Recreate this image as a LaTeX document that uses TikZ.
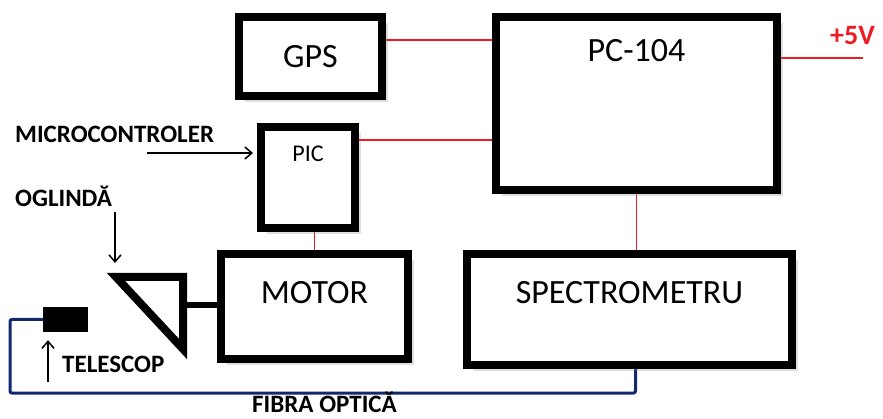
\documentclass[tikz,border=0pt]{standalone}
\usepackage{fontspec}
\setmainfont{Carlito}
\usetikzlibrary{positioning}
\usetikzlibrary{calc}
\usetikzlibrary{arrows.meta}
\usetikzlibrary{shadows}
\usetikzlibrary{backgrounds}
\definecolor{wirered}{RGB}{237,28,36}
\definecolor{navy}{RGB}{16,40,110}

\begin{document}
\begin{tikzpicture}[x=1pt, y=-1pt,
    box/.style={draw, line width=8pt, fill=white, inner sep=0pt,
        drop shadow={shadow xshift=6pt, shadow yshift=-6pt, opacity=0.25}},
    boxtext/.style={font=\fontsize{34}{40}\selectfont},
    lbl/.style={font=\fontsize{25}{30}\selectfont\bfseries, anchor=base west, inner sep=0pt},
    wire/.style={wirered, line width=1.5pt},
    arr/.style={-{Straight Barb[length=7pt, width=12pt]}, line width=1.5pt},
    fibre/.style={navy, line width=3pt, rounded corners=2pt}]
    \useasboundingbox (0,0) rectangle (883,419);
    % blocks
    \node[box, boxtext, minimum width=143pt, minimum height=79pt] (gps) at (310.5,56.5) {GPS};
    \node[box, minimum width=281pt, minimum height=173pt] (pc) at (636.5,103.5) {};
    \node[boxtext] (pctext) at ($(pc.north)+(0,38)$) {PC-104};
    \node[box, minimum width=94pt, minimum height=101pt] (pic) at (308,177.5) {};
    \node[font=\fontsize{24}{28}\selectfont] (pictext) at ($(pic.north)+(0,31)$) {PIC};
    \node[box, minimum width=187pt, minimum height=105pt] (motor) at (314.5,306.5) {};
    \node[boxtext] (motortext) at ($(motor.north)+(0,43)$) {MOTOR};
    \node[box, minimum width=325pt, minimum height=111pt] (spectro) at (629.5,309.5) {};
    \node[boxtext] (spectrotext) at ($(spectro.north)+(0,43)$) {SPECTROMETRU};
    \node[fill=black, minimum width=45pt, minimum height=25pt, inner sep=0pt] (tel) at (65.5,319.5) {};
    % mirror and shaft
    \draw[line width=8pt] (116,277) -- (183,277) -- (183,349) -- cycle;
    \coordinate (shaft) at (183,305);
    \draw[line width=6pt] (shaft) -- (shaft -| motor.west);
    % labels
    \node[lbl] (mc) at (15,143) {MICROCONTROLER};
    \node[lbl] (ogl) at (15,207) {OGLINDĂ};
    \node[lbl] (telname) at (62,373) {TELESCOP};
    \node[lbl] (fibra) at (252,412) {FIBRA OPTICĂ};
    \node[lbl, text=wirered, font=\fontsize{28}{32}\selectfont\bfseries] (vcc) at (830,45) {+5V};
    % arrows
    \coordinate (mcarr) at (147,153);
    \coordinate (oglarr) at (115,212);
    \coordinate (mirrortop) at (115,263);
    \coordinate (telarr) at (48,382);
    \draw[arr, shorten >=4pt] (mcarr) -- (mcarr -| pic.west);
    \draw[arr] (oglarr) -- (mirrortop);
    \draw[arr, shorten >=8pt] (telarr) -- (telarr |- tel.south);
    % wires
    \coordinate (vccend) at (863,58);
    \coordinate (fibL) at (10,393);
    \begin{scope}[on background layer]
        \draw[wire] ($(gps.north east)+(0,27)$) coordinate (g1) -- (g1 -| pc.west);
        \draw[wire] ($(pic.north east)+(0,17)$) coordinate (p1) -- (p1 -| pc.west);
        \draw[wire] (motor.north) -- (motor.north |- pic.south);
        \draw[wire] (pc.south) -- (pc.south |- spectro.north);
        \draw[wire] (vccend) -- (vccend -| pc.east);
        \draw[fibre] (tel.west) -| (fibL) -| ($(spectro.south)+(6,0)$);
    \end{scope}
\end{tikzpicture}
\end{document}
